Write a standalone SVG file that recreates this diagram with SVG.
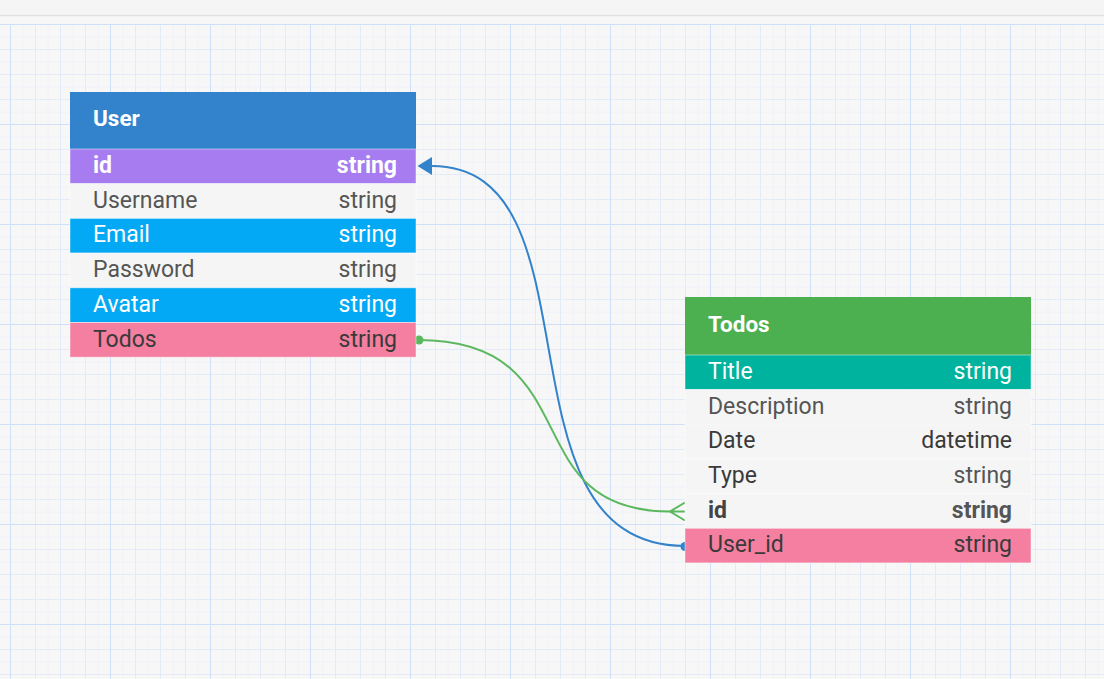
<svg xmlns="http://www.w3.org/2000/svg" width="1104" height="679" viewBox="0 0 1104 679">
<defs>
<pattern id="grid" x="10" y="24" width="100" height="100" patternUnits="userSpaceOnUse">
<g fill="none" stroke-width="1">
<path d="M13 0V100M38 0V100M63 0V100M88 0V100M0 13H100M0 38H100M0 63H100M0 88H100" stroke="#eef2f9"/>
<path d="M25.5 0V100M50.5 0V100M75.5 0V100M0 25.5H100M0 50.5H100M0 75.5H100" stroke="#e3ebf8"/>
<path d="M0.5 0V100M0 0.5H100" stroke="#cfe0f8"/>
</g>
</pattern>
</defs>
<style>
text{font-family:Roboto,"Liberation Sans",sans-serif;font-size:23px;}
.hdr{font-weight:bold;fill:#ffffff;font-size:22.5px;}
.w{fill:#ffffff;}
.d{fill:#555555;}
.p{fill:#3a3a3a;}
.b{font-weight:bold;}
.r{text-anchor:end;}
.row{stroke:rgba(255,255,255,0.45);stroke-width:1;}
.link{fill:none;stroke-width:2;}
</style>
<rect x="0" y="0" width="1104" height="679" fill="#f7f7f7"/>
<rect x="0" y="0" width="1104" height="15" fill="#f5f5f5"/>
<line x1="0" y1="15.5" x2="1104" y2="15.5" stroke="#e2e2e2" stroke-width="1.5"/>
<rect x="0" y="24" width="1104" height="655" fill="url(#grid)"/>

<g id="connectors">
<path class="link" d="M432 166 C606 166 488 546 685 546" stroke="#3382cc"/>
<path d="M432 157 L417.5 166 L432 175 Z" fill="#3382cc"/>
<circle cx="685" cy="546.5" r="4.5" fill="#3382cc"/>
<path class="link" d="M418 340 C592 340 512 511.5 670 511.5" stroke="#5cb85f"/>
<path class="link" d="M685 502.5 L670 511.5 L685 520.5 M670 511.5 H685" stroke="#5cb85f"/>
<circle cx="419" cy="340" r="4.5" fill="#5cb85f"/>
</g>

<g id="User">
<rect x="70" y="92" width="346" height="57" fill="#3382cc"/>
<text class="hdr" x="93" y="126">User</text>
<rect class="row" x="70" y="149" width="346" height="34.7" fill="#a67cf0"/>
<text class="w b" x="93" y="173">id</text><text class="w b r" x="397" y="173">string</text>
<rect class="row" x="70" y="183.7" width="346" height="34.7" fill="#f5f5f5"/>
<text class="d" x="93" y="207.7">Username</text><text class="d r" x="397" y="207.7">string</text>
<rect class="row" x="70" y="218.4" width="346" height="34.7" fill="#03a9f4"/>
<text class="w" x="93" y="242.4">Email</text><text class="w r" x="397" y="242.4">string</text>
<rect class="row" x="70" y="253.1" width="346" height="34.7" fill="#f5f5f5"/>
<text class="d" x="93" y="277.1">Password</text><text class="d r" x="397" y="277.1">string</text>
<rect class="row" x="70" y="287.8" width="346" height="34.7" fill="#03a9f4"/>
<text class="w" x="93" y="311.8">Avatar</text><text class="w r" x="397" y="311.8">string</text>
<rect class="row" x="70" y="322.5" width="346" height="34.7" fill="#f47fa0"/>
<text class="p" x="93" y="346.5">Todos</text><text class="p r" x="397" y="346.5">string</text>
</g>

<g id="Todos">
<rect x="685" y="297" width="346" height="58" fill="#4caf50"/>
<text class="hdr" x="708" y="332">Todos</text>
<rect class="row" x="685" y="355" width="346" height="34.6" fill="#00b39e"/>
<text class="w" x="708" y="379">Title</text><text class="w r" x="1012" y="379">string</text>
<rect class="row" x="685" y="389.6" width="346" height="34.7" fill="#f5f5f5"/>
<text class="d" x="708" y="413.6">Description</text><text class="d r" x="1012" y="413.6">string</text>
<rect class="row" x="685" y="424.3" width="346" height="34.7" fill="#f5f5f5"/>
<text class="p" x="708" y="448.3">Date</text><text class="p r" x="1012" y="448.3">datetime</text>
<rect class="row" x="685" y="459" width="346" height="34.6" fill="#f5f5f5"/>
<text class="p" x="708" y="483">Type</text><text class="d r" x="1012" y="483">string</text>
<rect class="row" x="685" y="493.6" width="346" height="34.7" fill="#f5f5f5"/>
<text class="p b" x="708" y="517.6" style="fill:#444">id</text><text class="b r" x="1012" y="517.6" style="fill:#555">string</text>
<rect class="row" x="685" y="528.3" width="346" height="34.6" fill="#f47fa0"/>
<text class="p" x="708" y="552.3">User_id</text><text class="p r" x="1012" y="552.3">string</text>
</g>
</svg>
